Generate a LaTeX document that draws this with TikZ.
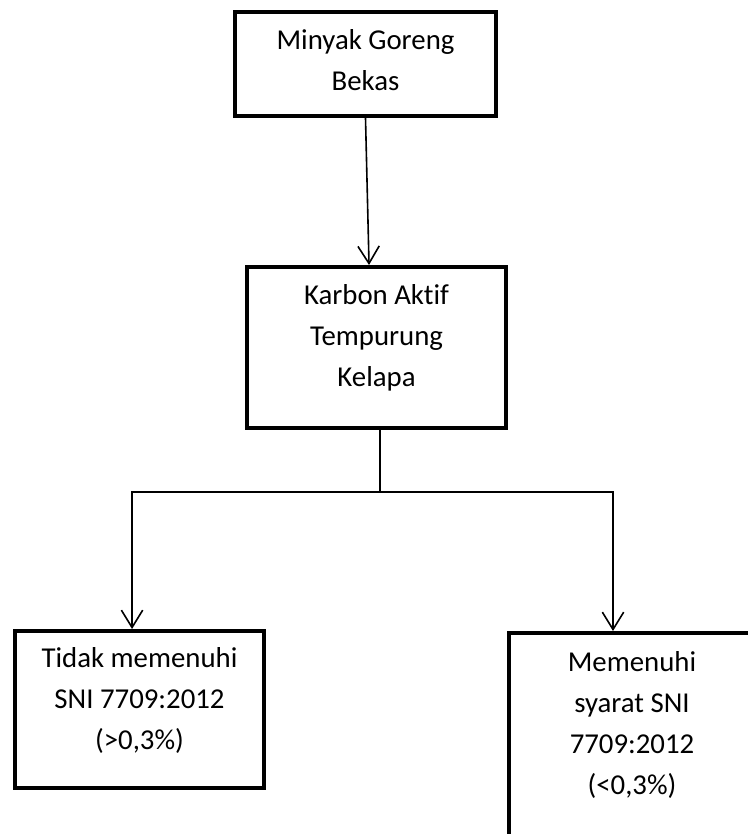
\documentclass[tikz,border=0pt]{standalone}
\usepackage{fontspec}
\setmainfont{Carlito}[Ligatures=NoCommon]
\usetikzlibrary{positioning,arrows.meta}

\tikzset{
    kotak/.style={draw, line width=3pt, inner sep=0pt},
    teks/.style={align=center, inner sep=0pt, font=\fontsize{21.6}{30.75}\selectfont},
    panah/.style={line width=1.2pt, -{Straight Barb[length=13pt, width=16pt, line width=1.2pt]}},
    garis/.style={line width=1.2pt}
}

\begin{document}
\begin{tikzpicture}[x=0.75pt, y=-0.75pt]
        \useasboundingbox (0,0) rectangle (748,834);
        \clip (0,0) rectangle (748,834);

        % Kotak
        \node[kotak, minimum width=195.75pt, minimum height=78pt] (minyak) at (365.5,64) {};
        \node[kotak, minimum width=194.25pt, minimum height=120.75pt] (karbon) at (376.5,347.5) {};
        \node[kotak, minimum width=186.75pt, minimum height=117.75pt] (tidak) at (139.5,709.5) {};
        \node[kotak, minimum width=184.5pt, minimum height=152.25pt] (memenuhi) at (632,734.5) {};

        % Teks
        \node[teks, below=14.25pt of minyak.north] (tminyak) {Minyak Goreng\\Bekas};
        \node[teks, below=14.25pt of karbon.north] (tkarbon) {Karbon Aktif\\Tempurung\\Kelapa};
        \node[teks, below=13.5pt of tidak.north] (ttidak) {Tidak memenuhi\\SNI 7709:2012\\(>0,3\%)};
        \node[teks, below=15pt of memenuhi.north] (tmemenuhi) {Memenuhi\\syarat SNI\\7709:2012\\(<0,3\%)};

        % Panah
        \draw[panah] (minyak.south) -- ([xshift=-5.6pt]karbon.north);
        \coordinate (cabang) at (380,492);
        \draw[garis] (karbon.south -| cabang) -- (cabang);
        \draw[panah] (cabang) -| ([xshift=-5.6pt]tidak.north);
        \draw[panah] (cabang) -| ([xshift=-14.25pt]memenuhi.north);
    \end{tikzpicture}
\end{document}
